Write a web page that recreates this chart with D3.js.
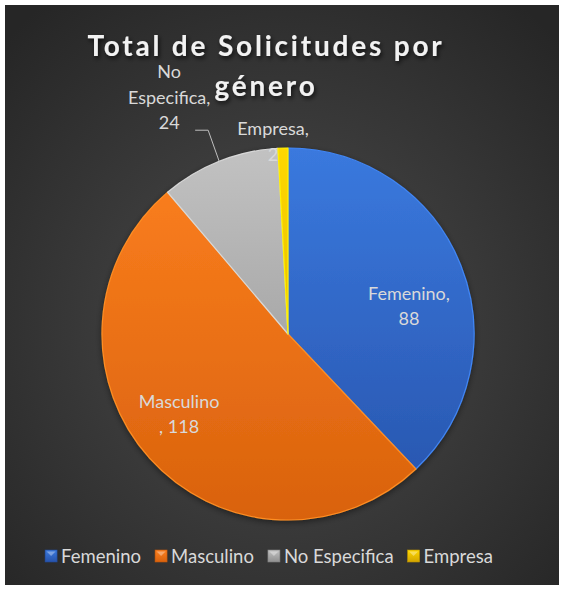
<!DOCTYPE html>
<html lang="es">
<head>
<meta charset="utf-8">
<title>Total de Solicitudes por género</title>
<script src="https://d3js.org/d3.v7.min.js"></script>
<style>
  body { margin: 0; background: #fff; }
  svg { display: block; }
  .title { font-family: Lato, "Open Sans", sans-serif; font-weight: 700; fill: #f2f2f2; }
  .lbl { font-family: Lato, "Open Sans", sans-serif; fill: #d9d9d9; }
  .legend text { font-family: Lato, "Open Sans", sans-serif; fill: #d9d9d9; }
</style>
</head>
<body>
<script>
// chart data
var categories = ["Femenino", "Masculino", "No Especifica", "Empresa"];
var values = [88, 118, 24, 2];
var colorsTop = ["#3a79de", "#fd801f", "#c2c2c2", "#ffd800"];
var colorsBottom = ["#2753ab", "#d9620d", "#8f8f8f", "#d2a400"];

var width = 564, height = 590;
var cx = 288, cy = 334, radius = 186;

var svg = d3.select("body").append("svg")
  .attr("width", width)
  .attr("height", height);

var defs = svg.append("defs");

// background gradient
var bg = defs.append("radialGradient")
  .attr("id", "bg")
  .attr("cx", "50%").attr("cy", "55%").attr("r", "70%");
bg.append("stop").attr("offset", "0%").attr("stop-color", "#4c4c4c");
bg.append("stop").attr("offset", "100%").attr("stop-color", "#262626");

// slice gradients
categories.forEach(function(c, i) {
  var g = defs.append("linearGradient")
    .attr("id", "sl" + i)
    .attr("gradientUnits", "userSpaceOnUse")
    .attr("x1", 0).attr("y1", -radius).attr("x2", 0).attr("y2", radius);
  g.append("stop").attr("offset", "0%").attr("stop-color", colorsTop[i]);
  g.append("stop").attr("offset", "100%").attr("stop-color", colorsBottom[i]);

  var lg = defs.append("linearGradient")
    .attr("id", "lg" + i)
    .attr("x1", 0).attr("y1", 0).attr("x2", 0).attr("y2", 1);
  lg.append("stop").attr("offset", "0%").attr("stop-color", colorsTop[i]);
  lg.append("stop").attr("offset", "100%").attr("stop-color", colorsBottom[i]);
});

var shadow = defs.append("filter").attr("id", "tshadow")
  .attr("x", "-10%").attr("y", "-30%").attr("width", "120%").attr("height", "160%");
shadow.append("feDropShadow")
  .attr("dx", 1.5).attr("dy", 2.5).attr("stdDeviation", 2)
  .attr("flood-color", "#000").attr("flood-opacity", 0.7);

var pshadow = defs.append("filter").attr("id", "pshadow")
  .attr("x", "-10%").attr("y", "-10%").attr("width", "120%").attr("height", "120%");
pshadow.append("feDropShadow")
  .attr("dx", 0).attr("dy", 2).attr("stdDeviation", 3)
  .attr("flood-color", "#000").attr("flood-opacity", 0.45);

svg.append("rect")
  .attr("x", 5).attr("y", 5)
  .attr("width", 554).attr("height", 580)
  .attr("fill", "url(#bg)");

// pie
var pie = d3.pie().sort(null).value(function(d) { return d; });
var arcs = pie(values);
var arc = d3.arc().innerRadius(0).outerRadius(radius);

var g = svg.append("g").attr("transform", "translate(" + cx + "," + cy + ")");

g.append("g").attr("filter", "url(#pshadow)")
  .selectAll("path")
  .data(arcs)
  .enter().append("path")
  .attr("d", arc)
  .attr("fill", function(d, i) { return "url(#sl" + i + ")"; })
  .attr("stroke", function(d, i) { return d3.color(colorsTop[i]).brighter(0.3); })
  .attr("stroke-width", 1.2)
  .attr("stroke-linejoin", "round");

// title (drawn after pie so it stays on top)
var title = svg.append("text")
  .attr("class", "title")
  .attr("text-anchor", "middle")
  .attr("font-size", 28)
  .attr("letter-spacing", 2.8)
  .attr("filter", "url(#tshadow)");
title.append("tspan").attr("x", 266).attr("y", 56).text("Total de Solicitudes por");
title.append("tspan").attr("x", 266).attr("y", 96).text("género");

// label placement (relative to arc centroid at 0.7 radius)
var labelArc = d3.arc().innerRadius(radius * 0.7).outerRadius(radius * 0.7);
var labelLines = [
  ["Femenino,", "88"],
  ["Masculino", ", 118"],
  ["No", "Especifica,", "24"],
  ["Empresa,", "2"]
];

function labelPos(d, i) {
  var c = labelArc.centroid(d);
  if (i === 0) return [c[0], c[1] + 14];
  if (i === 1) return [c[0] - 12, c[1] - 13];
  // outside labels
  var a = (d.startAngle + d.endAngle) / 2;
  if (i === 2) return [Math.sin(a) * radius - 50, -Math.cos(a) * radius - 83];
  return [Math.sin(a) * radius - 10, -Math.cos(a) * radius - 13];
}

arcs.forEach(function(d, i) {
  var p = labelPos(d, i);
  var t = g.append("text")
    .attr("class", "lbl")
    .attr("text-anchor", "middle")
    .attr("font-size", 18);
  labelLines[i].forEach(function(line, k) {
    t.append("tspan")
      .attr("x", p[0])
      .attr("y", p[1] + k * 25.5)
      .text(line);
  });
});

// leader line for No Especifica
var dNo = arcs[2];
var aNo = (dNo.startAngle + dNo.endAngle) / 2;
var ex = Math.sin(aNo) * radius, ey = -Math.cos(aNo) * radius;
g.append("path")
  .attr("d", d3.line()([[ex - 24, ey - 31], [ex - 11, ey - 31], [ex, ey]]))
  .attr("fill", "none")
  .attr("stroke", "#bfbfbf")
  .attr("stroke-width", 1);

// legend
var legend = svg.append("g").attr("class", "legend");
var lx = 0;
categories.forEach(function(c, i) {
  var it = legend.append("g");
  it.append("rect")
    .attr("x", 0).attr("y", -6)
    .attr("width", 12).attr("height", 12)
    .attr("fill", "url(#lg" + i + ")")
    .attr("stroke", d3.color(colorsBottom[i]).darker(0.3))
    .attr("stroke-width", 0.6);
  it.append("path")
    .attr("d", "M1.5,-4.5L10.5,-4.5L6,0Z")
    .attr("fill", "#fff").attr("opacity", 0.35);
  var tx = it.append("text")
    .attr("x", 16).attr("y", 0)
    .attr("dy", "0.36em")
    .attr("font-size", 18.5)
    .text(c);
  var w = 16 + tx.node().getComputedTextLength();
  it.attr("transform", "translate(" + lx + ",0)");
  lx += w + 14;
});
var totalW = lx - 14;
legend.attr("transform", "translate(" + (269 - totalW / 2) + ",556)");
</script>
</body>
</html>
